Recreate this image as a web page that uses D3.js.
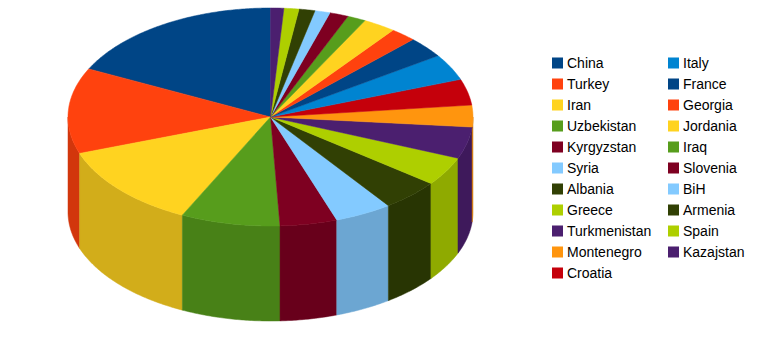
<!DOCTYPE html>
<html>
<head>
<meta charset="utf-8">
<script src="https://cdn.jsdelivr.net/npm/d3@7"></script>
<style>
  body { margin: 0; background: #fff; }
</style>
</head>
<body>
<svg id="chart"></svg>
<script>
let width = 774, height = 337;

// Data
let countries = ["China", "Turkey", "Iran", "Uzbekistan", "Kyrgyzstan", "Syria", "Albania",
  "Greece", "Turkmenistan", "Montenegro", "Croatia", "Italy", "France", "Georgia",
  "Jordania", "Iraq", "Slovenia", "BiH", "Armenia", "Spain", "Kazajstan"];
let values = [63.8, 45.7, 44.7, 28.5, 16.4, 16.5, 16.8, 15.4, 16.9, 11.6, 13.9,
  14.0, 11.1, 7.5, 9.4, 5.3, 5.4, 4.4, 4.6, 4.3, 3.8];
let palette = ["#004586", "#ff420e", "#ffd320", "#579d1c", "#7e0021", "#83caff",
  "#314004", "#aecf00", "#4b1f6f", "#ff950e", "#c5000b", "#0084d1"];

let data = countries.map((c, i) => ({ name: c, value: values[i] }));

// Pie geometry
let cx = 270.5, cy = 117, rx = 202.5, ry = 109, depth = 95;

let color = d3.scaleOrdinal()
  .domain(countries)
  .range(palette);

// counter-clockwise from 12 o'clock
let arcs = d3.pie()
  .sort(null)
  .value(d => d.value)
  .startAngle(0)
  .endAngle(-2 * Math.PI)(data);

let pt = (a, dy) => [cx + rx * Math.sin(a), cy - ry * Math.cos(a) + (dy || 0)];

function arcPoints(a0, a1, dy) {
  let n = Math.max(2, Math.ceil(Math.abs(a1 - a0) / 0.01));
  return d3.range(n + 1).map(i => pt(a0 + (a1 - a0) * i / n, dy));
}

let line = d3.line();

let svg = d3.select("#chart")
  .attr("width", width)
  .attr("height", height)
  .attr("viewBox", [0, 0, width, height]);

// Side walls (front half only)
let sides = svg.append("g");
arcs.forEach(d => {
  let hi = Math.min(d.startAngle, -Math.PI / 2);
  let lo = Math.max(d.endAngle, -3 * Math.PI / 2);
  if (lo >= hi) return;
  let top = arcPoints(hi, lo, 0);
  let bottom = arcPoints(lo, hi, depth);
  let c = d3.color(color(d.data.name)).darker(0.55);
  sides.append("path")
    .attr("d", line(top.concat(bottom)) + "Z")
    .attr("fill", c)
    .attr("stroke", c)
    .attr("stroke-width", 0.5);
});

// Top faces
let tops = svg.append("g");
arcs.forEach(d => {
  let pts = [[cx, cy]].concat(arcPoints(d.startAngle, d.endAngle, 0));
  tops.append("path")
    .attr("d", line(pts) + "Z")
    .attr("fill", color(d.data.name))
    .attr("stroke", color(d.data.name))
    .attr("stroke-width", 0.5);
});

// Legend
let perCol = 11;
let legend = svg.append("g")
  .style("font-family", "'Liberation Sans', Arial, sans-serif")
  .style("font-size", "14px");

data.forEach((d, i) => {
  let col = Math.floor(i / perCol), row = i % perCol;
  let x = 552 + col * 116, y = 63 + row * 21;
  legend.append("rect")
    .attr("x", x)
    .attr("y", y - 5.5)
    .attr("width", 11)
    .attr("height", 11)
    .attr("fill", color(d.name));
  legend.append("text")
    .attr("x", x + 15)
    .attr("y", y + 5)
    .attr("fill", "#000")
    .text(d.name);
});
</script>
</body>
</html>
